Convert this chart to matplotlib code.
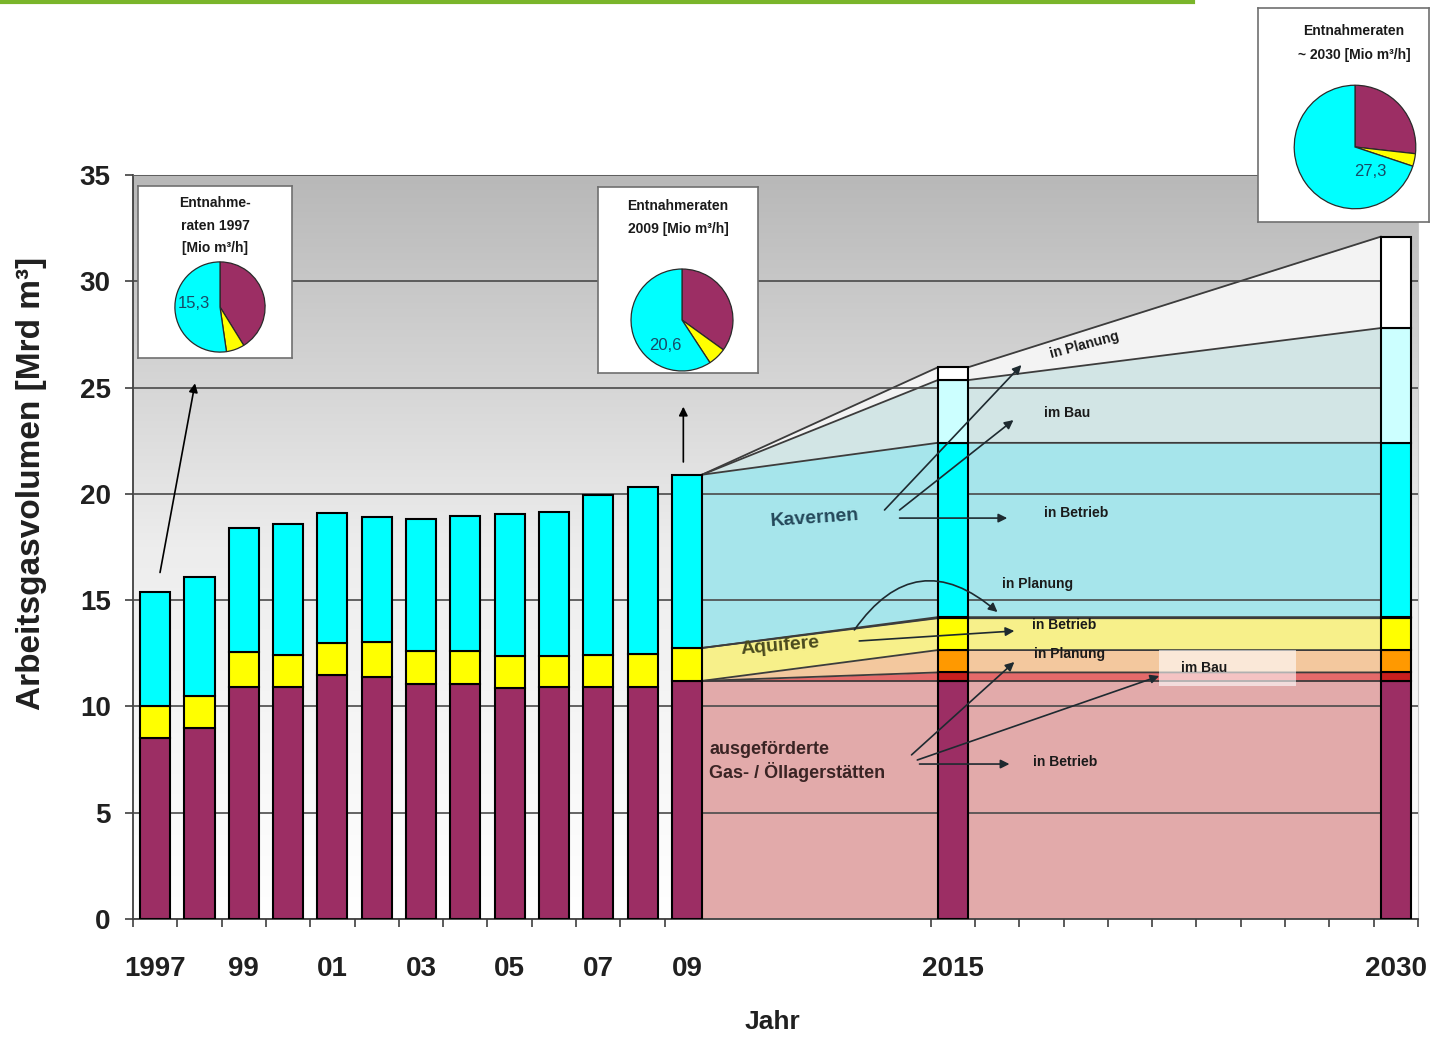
import numpy as np
import matplotlib
matplotlib.use('Agg')
import matplotlib.pyplot as plt
from matplotlib.colors import LinearSegmentedColormap
from matplotlib.patches import Rectangle

plt.rcParams['font.family'] = ['Liberation Sans', 'DejaVu Sans']

# Arbeitsgasvolumen [Mrd m3] 1997-2009
years = list(range(1997, 2010))
ausgef = [8.5, 9.0, 10.9, 10.9, 11.5, 11.4, 11.05, 11.05, 10.85, 10.9, 10.9, 10.9, 11.2]
aquifer = [1.5, 1.5, 1.65, 1.5, 1.5, 1.65, 1.55, 1.55, 1.5, 1.45, 1.5, 1.55, 1.55]
kavernen = [5.4, 5.6, 5.85, 6.2, 6.1, 5.85, 6.2, 6.35, 6.7, 6.8, 7.55, 7.85, 8.15]

# Prognose 2015 / 2030 nach Status
prog_years = [2015, 2030]
ausgef_betrieb = [11.2, 11.2]
ausgef_bau = [0.4, 0.4]
ausgef_planung = [1.05, 1.05]
aquifer_betrieb = [1.5, 1.5]
aquifer_planung = [0.05, 0.05]
kav_betrieb = [8.2, 8.2]
kav_bau = [2.95, 5.4]
kav_planung = [0.6, 4.3]

tick_labels = ['1997', '99', '01', '03', '05', '07', '09', '2015', '2030']

# Entnahmeraten [Mio m3/h]: ausgef. Lagerstaetten, Aquifere, Kavernen
pie_1997 = [6.3, 1.0, 8.0]
pie_2009 = [7.2, 1.2, 12.2]
pie_2030 = [7.3, 0.9, 19.1]
pie_totals = ['15,3', '20,6', '27,3']

PURPLE = '#9C2E64'
YELLOW = '#FFFF00'
CYAN = '#00FFFF'

W, H = 1431, 1037
fig = plt.figure(figsize=(W / 100, H / 100), dpi=100)


def px_rect(x0, y0, x1, y1):
    return [x0 / W, 1 - y1 / H, (x1 - x0) / W, (y1 - y0) / H]


ax = fig.add_axes(px_rect(133, 175, 1418, 919))
ax.set_xlim(-0.5, 28.5)
ax.set_ylim(0, 35)

# grey gradient background
grad = np.linspace(0, 1, 256).reshape(-1, 1)
bg = LinearSegmentedColormap.from_list('bg', ['#FFFFFF', '#EDEDED', '#B8B8B8'])
ax.imshow(grad, extent=[-0.5, 28.5, 0, 35], origin='lower', aspect='auto',
          cmap=bg, zorder=0)

x_hist = np.arange(len(years))
x_prog = np.array([18, 28])
bw = 0.68

# bands between 2009, 2015 and 2030
bx = [x_hist[-1] + bw / 2, x_prog[0] - bw / 2, x_prog[0] + bw / 2, x_prog[1] - bw / 2]
band_layers = [
    (ausgef[-1], ausgef_betrieb, '#E2AAAA'),
    (0, ausgef_bau, '#E46A6A'),
    (0, ausgef_planung, '#F3C89E'),
    (aquifer[-1], aquifer_betrieb, '#F7F08A'),
    (0, aquifer_planung, '#8E8C5C'),
    (kavernen[-1], kav_betrieb, '#A6E5EB'),
    (0, kav_bau, '#D2E5E5'),
    (0, kav_planung, '#F3F3F3'),
]
lower = np.zeros(4)
for v09, vals, col in band_layers:
    thick = np.array([v09, vals[0], vals[0], vals[1]])
    upper = lower + thick
    ax.fill_between(bx, lower, upper, color=col, lw=0, zorder=1)
    ax.plot(bx, upper, color='#3C3C3C', lw=1.3, zorder=1.5)
    lower = upper

ax.yaxis.grid(True, color='#4A4A4A', lw=1.2, zorder=2)
ax.set_axisbelow(False)
for gl in ax.get_ygridlines():
    gl.set_zorder(2)

# historic stacked bars
edge = dict(edgecolor='black', linewidth=1.5, zorder=3)
ax.bar(x_hist, ausgef, bw, color=PURPLE, **edge)
ax.bar(x_hist, aquifer, bw, bottom=ausgef, color=YELLOW, **edge)
ax.bar(x_hist, kavernen, bw, bottom=np.add(ausgef, aquifer), color=CYAN, **edge)

# forecast bars
prog_segments = [
    (ausgef_betrieb, PURPLE), (ausgef_bau, '#C81E1E'), (ausgef_planung, '#FF9900'),
    (aquifer_betrieb, YELLOW), (aquifer_planung, '#6E6C30'),
    (kav_betrieb, CYAN), (kav_bau, '#CCFFFF'), (kav_planung, '#FFFFFF'),
]
bottom = np.zeros(2)
for vals, col in prog_segments:
    ax.bar(x_prog, vals, bw, bottom=bottom, color=col, **edge)
    bottom = bottom + np.array(vals)

# axes styling
for s in ['top', 'right']:
    ax.spines[s].set_color('#C8C8C8')
for s in ['left', 'bottom']:
    ax.spines[s].set_color('#404040')
    ax.spines[s].set_linewidth(1.3)
ax.set_yticks(range(0, 36, 5))
ax.set_xticks([0, 2, 4, 6, 8, 10, 12, 18, 28])
ax.set_xticklabels(tick_labels)
minor = [k - 0.5 for k in range(0, 13)] + [k - 0.5 for k in range(18, 30)]
ax.set_xticks(minor, minor=True)
ax.tick_params(axis='x', which='major', length=0, pad=27)
ax.tick_params(axis='x', which='minor', length=6, width=1.2, color='#404040')
ax.tick_params(axis='y', length=6, width=1.2, color='#404040', pad=10)
for lab in ax.get_xticklabels() + ax.get_yticklabels():
    lab.set_fontsize(20)
    lab.set_fontweight('bold')
    lab.set_color('#202020')

ax.set_ylabel('Arbeitsgasvolumen [Mrd m³]', fontsize=24, fontweight='bold', color='#202020')
ax.yaxis.set_label_coords(-0.067, 0.586)
ax.set_xlabel('Jahr', fontsize=19, fontweight='bold', color='#202020')
ax.xaxis.set_label_coords(0.498, -0.122)

# labels inside the chart
small = dict(fontsize=10, fontweight='bold', color='#1A1A1A', ha='center', va='center', zorder=6)
ax.text(20.97, 27.0, 'in Planung', rotation=15, **small)
ax.text(20.58, 23.8, 'im Bau', **small)
ax.text(20.79, 19.1, 'in Betrieb', **small)
ax.text(19.91, 15.76, 'in Planung', **small)
ax.text(20.52, 13.83, 'in Betrieb', **small)
ax.text(20.63, 12.47, 'in Planung', **small)
ax.add_patch(Rectangle((22.66, 10.96), 3.09, 1.69, facecolor='white', alpha=0.6,
                       lw=0, zorder=5))
ax.text(23.67, 11.81, 'im Bau', **small)
ax.text(20.54, 7.39, 'in Betrieb', **small)

ax.text(14.88, 18.86, 'Kavernen', rotation=4, fontsize=14, fontweight='bold',
        color='#24485A', ha='center', va='center', zorder=6)
ax.text(14.11, 12.84, 'Aquifere', rotation=5, fontsize=14, fontweight='bold',
        color='#4A4A1E', ha='center', va='center', zorder=6)
ax.text(12.51, 7.41, 'ausgeförderte\nGas- / Öllagerstätten', fontsize=13,
        fontweight='bold', color='#3A2424', ha='left', va='center',
        linespacing=1.25, zorder=6)

arrow = dict(arrowstyle='-|>', color='#1E2A30', lw=1.2, mutation_scale=13,
             shrinkA=0, shrinkB=0)
arrows = [
    ((16.46, 19.24), (19.55, 26.06)),
    ((16.80, 19.24), (19.37, 23.47)),
    ((16.80, 18.86), (19.23, 18.86)),
    ((15.89, 13.08), (19.39, 13.55)),
    ((17.07, 7.72), (19.39, 12.09)),
    ((17.20, 7.48), (22.66, 11.43)),
    ((17.25, 7.29), (19.28, 7.29)),
]
for start, end in arrows:
    ax.annotate('', xy=end, xytext=start, arrowprops=arrow, zorder=6)
ax.annotate('', xy=(19.01, 14.44), xytext=(15.78, 13.6), zorder=6,
            arrowprops=dict(arrow, connectionstyle='arc3,rad=-0.55'))

# arrows up to the pie boxes
ax.annotate('', xy=(0.9, 25.2), xytext=(0.11, 16.3), annotation_clip=False,
            arrowprops=dict(arrow, color='black'))
ax.annotate('', xy=(11.92, 24.1), xytext=(11.92, 21.5), annotation_clip=False,
            arrowprops=dict(arrow, color='black'))

# pie insets
pie_cols = [PURPLE, YELLOW, CYAN]


def pie_box(box, pie, values, title_lines, label, label_xy):
    bax = fig.add_axes(px_rect(*box))
    bax.set_facecolor('white')
    bax.set_xticks([])
    bax.set_yticks([])
    for s in bax.spines.values():
        s.set_color('#707070')
        s.set_linewidth(1.2)
    bax.set_zorder(10)
    for txt, (tx, ty) in title_lines:
        fig.text(tx / W, 1 - ty / H, txt, fontsize=10, fontweight='bold',
                 ha='center', va='center', color='#1A1A1A', zorder=12)
    pax = fig.add_axes(px_rect(*pie))
    pax.set_zorder(11)
    pax.pie(values, colors=pie_cols, startangle=90, counterclock=False,
            wedgeprops=dict(edgecolor='#2A2A2A', linewidth=0.9))
    pax.set_aspect('auto')
    pax.set_xlim(-1.02, 1.02)
    pax.set_ylim(-1.02, 1.02)
    fig.text(label_xy[0] / W, 1 - label_xy[1] / H, label, fontsize=12,
             color='#174A66', ha='center', va='center', zorder=13)


pie_box((138, 186, 292, 358), (174, 261, 266, 353), pie_1997,
        [('Entnahme-', (215, 203)), ('raten 1997', (215, 226)), ('[Mio m³/h]', (215, 248))],
        pie_totals[0], (194, 304))
pie_box((598, 187, 758, 373), (630, 268, 734, 372), pie_2009,
        [('Entnahmeraten', (678, 206)), ('2009 [Mio m³/h]', (678, 229))],
        pie_totals[1], (665, 345))
pie_box((1258, 8, 1429, 222), (1293, 84, 1417, 210), pie_2030,
        [('Entnahmeraten', (1354, 31)), ('~ 2030 [Mio m³/h]', (1354, 55))],
        pie_totals[2], (1370, 171))

# green rule along the top edge
fig.add_artist(plt.Line2D([0, 1193 / W], [1 - 1.5 / H, 1 - 1.5 / H],
                          color='#7AB52A', lw=3))

fig.savefig('out.png', dpi=100)
